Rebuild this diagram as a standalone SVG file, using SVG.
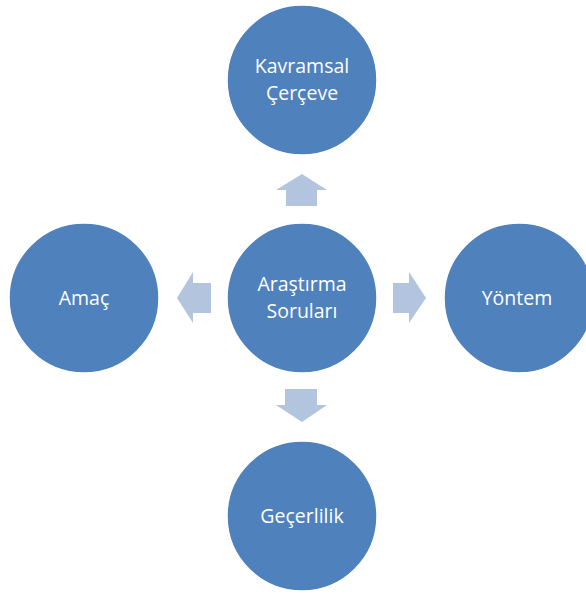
<svg xmlns="http://www.w3.org/2000/svg" width="586" height="594" viewBox="0 0 586 594">
<style>
.node{fill:#4F81BD;stroke:#FFFFFF;stroke-width:1.5}
.lbl{fill:#FFFFFF;font-family:"Open Sans","Noto Sans",sans-serif;font-size:19.5px;text-anchor:middle}
.arr{fill:#B3C4DF}
</style>
<rect width="586" height="594" fill="#FFFFFF"/>
<g id="connectors">
<polygon class="arr" points="302,174 327,190 317,190 317,206 286,206 286,190 276,190"/>
<polygon class="arr" points="177,298 193,272 193,283 211,283 211,313 193,313 193,323"/>
<polygon class="arr" points="426,298 409,272 409,283 393,283 393,313 409,313 409,323"/>
<polygon class="arr" points="302,422 327,405 317,405 317,389 285,389 285,405 276,405"/>
</g>
<g id="center">
<circle class="node" cx="302" cy="298" r="75"/>
<text class="lbl" x="302" y="291">Araştırma</text>
<text class="lbl" x="302" y="318">Soruları</text>
</g>
<g id="kavramsal">
<circle class="node" cx="302" cy="80" r="75"/>
<text class="lbl" x="302" y="73">Kavramsal</text>
<text class="lbl" x="302" y="100">Çerçeve</text>
</g>
<g id="amac">
<circle class="node" cx="84" cy="298" r="75"/>
<text class="lbl" x="84" y="305">Amaç</text>
</g>
<g id="yontem">
<circle class="node" cx="519" cy="298" r="75"/>
<text class="lbl" x="517" y="305">Yöntem</text>
</g>
<g id="gecerlilik">
<circle class="node" cx="302" cy="516" r="75"/>
<text class="lbl" x="302" y="523">Geçerlilik</text>
</g>
</svg>
